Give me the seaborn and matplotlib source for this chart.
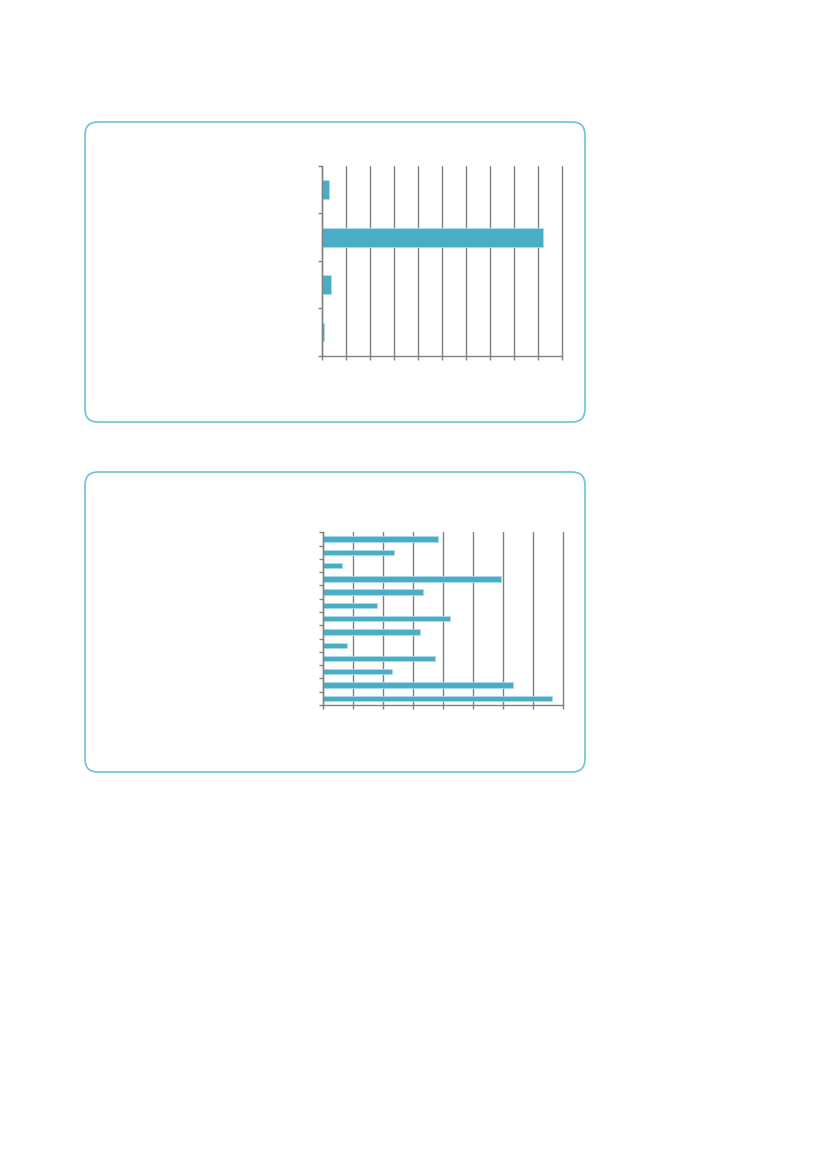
import numpy as np
import pandas as pd
import matplotlib
matplotlib.use("Agg")
import matplotlib.pyplot as plt
from matplotlib.patches import FancyBboxPatch
import seaborn as sns

# --- data (units of one gridline = 10) ---
cats_top = ["A", "B", "C", "D"]
vals_top = [2.8, 92.3, 3.6, 1.0]

cats_bottom = ["c1", "c2", "c3", "c4", "c5", "c6", "c7",
               "c8", "c9", "c10", "c11", "c12", "c13"]
vals_bottom = [38.3, 23.6, 6.2, 59.4, 33.3, 17.9, 42.1,
               32.2, 8.0, 37.1, 22.9, 63.1, 76.1]

bar_color = "#4BACC6"
grid_color = "#808080"
frame_color = "#6CC3DA"

sns.set_style("white")
fig = plt.figure(figsize=(8.27, 11.69), dpi=100)

# rounded panel frames (inches, from the bottom-left corner)
for top_px in (122, 472):
    box = FancyBboxPatch((0.85, (1169 - top_px - 300) / 100), 5.0, 3.0,
                         boxstyle="round,pad=0,rounding_size=0.13",
                         transform=fig.dpi_scale_trans, fill=False,
                         edgecolor=frame_color, linewidth=1.2)
    fig.patches.append(box)


def draw(ax, cats, vals, xmax, step):
    df = pd.DataFrame({"cat": cats, "val": vals})
    sns.barplot(data=df, y="cat", x="val", orient="h", ax=ax,
                color=bar_color, width=0.4, edgecolor="#A9DCEA",
                linewidth=0.6, saturation=1)
    n = len(cats)
    ax.set_xlim(0, xmax)
    ax.set_ylim(n - 0.5, -0.5)
    ax.set_xticks(np.arange(0, xmax + 1, step))
    ax.set_yticks([])
    ax.set_yticks(np.arange(-0.5, n, 1), minor=True)
    ax.xaxis.grid(True, color=grid_color, linewidth=1.0)
    for line in ax.get_xgridlines():
        line.set_clip_on(False)
    ax.set_axisbelow(True)
    ax.set_xticklabels([])
    ax.set_yticklabels([], minor=True)
    ax.set_xlabel("")
    ax.set_ylabel("")
    for s in ("top", "right"):
        ax.spines[s].set_visible(False)
    for s in ("left", "bottom"):
        ax.spines[s].set_color(grid_color)
        ax.spines[s].set_linewidth(1.0)
    ax.tick_params(axis="x", which="major", direction="out", length=3,
                   color=grid_color, width=1.0, bottom=True)
    ax.tick_params(axis="y", which="minor", direction="out", length=3,
                   color=grid_color, width=1.0, left=True)


ax1 = fig.add_axes([0.3894, 0.6957, 0.2898, 0.1623])
draw(ax1, cats_top, vals_top, 100, 10)

ax2 = fig.add_axes([0.3909, 0.3969, 0.2902, 0.1477])
draw(ax2, cats_bottom, vals_bottom, 80, 10)

fig.savefig("out.png", dpi=100)
